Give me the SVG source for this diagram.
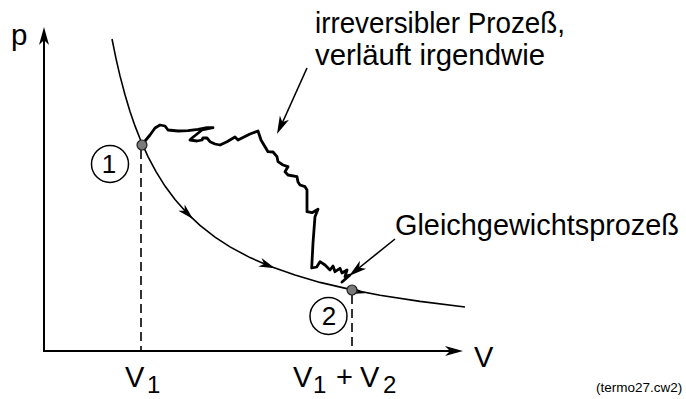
<svg xmlns="http://www.w3.org/2000/svg" width="686" height="399" viewBox="0 0 686 399">
<style>
text{font-family:"Liberation Sans",Arial,Helvetica,sans-serif;fill:#000}
.lbl{font-size:29.5px}
.num{font-size:26px}
.ax{font-size:29px}
.sub{font-size:24px}
.small{font-size:13.5px}
.axis{stroke:#000;stroke-width:2;fill:none}
.curve{stroke:#000;stroke-width:1.6;fill:none}
.zig{stroke:#000;stroke-width:2.8;fill:none;stroke-linejoin:round;stroke-linecap:round}
.dash{stroke:#000;stroke-width:1.6;stroke-dasharray:9,5;fill:none}
.ptr{stroke:#000;stroke-width:1.6;fill:none}
.ring{stroke:#000;stroke-width:1.5;fill:none}
.dot{fill:#7a7a7a;stroke:#222;stroke-width:1.2}
.ah{fill:#000}
</style>
<defs>
<path id="ah" d="M0,0 L-18,-5 L-13,0 L-18,5 Z"/>
</defs>
<rect width="686" height="399" fill="#fff"/>
<g id="axes">
<line class="axis" x1="44" y1="351" x2="44" y2="32"/>
<line class="axis" x1="43" y1="351" x2="458" y2="351"/>
<use href="#ah" class="ah" transform="translate(44,27) rotate(-90)"/>
<use href="#ah" class="ah" transform="translate(463,351)"/>
<text class="lbl" x="11" y="45">p</text>
<text class="ax" x="474" y="367">V</text>
</g>
<g id="connectors">
<path id="isotherm" class="curve" d="M112,39 L116,58.6 L120,75.9 L125,94.8 L130,111.4 L135,125.9 L141,141.2 L148,156.6 L156,171.7 L165,186.1 L175,199.6 L188,214.2 L200,225.4 L215,237.1 L230,246.9 L250,257.6 L270,266.3 L295,275.1 L320,282.4 L350,289.4 L380,295.2 L420,301.4 L465,307"/>
<use href="#ah" class="ah" transform="translate(193,219) rotate(44.7) scale(0.9)"/>
<use href="#ah" class="ah" transform="translate(275,268.2) rotate(21.6) scale(0.9)"/>
<path class="ptr" d="M352,287 L362,292.5 L354,293"/>
<path id="irreversible" class="zig" d="M141.7,145 L150,135 L155,128 L160,125 L165,126 L168,130 L178,131 L188,130.7 L198,129.3 L207,127.7 L213,127.7 L202,130 L192,138 L190,140 L197,141 L202,140 L203,138 L207,138 L210,141.7 L215,144 L220,145 L227,141.7 L235,137 L238,140 L242,138 L250,134 L258,131 L261,140 L265,146.7 L268,151.7 L273,152 L277,156.7 L278,161.7 L283,165 L288,166.7 L285,171.7 L288,175 L297,176.7 L298,182 L300,185 L305,186.7 L307,190 L307,211.7 L312,212.7 L318,209.3 L315,216.7 L313,243 L311.7,268 L316.7,267 L320,261.7 L325,265 L327,267 L330,270 L333,266 L335,271.7 L340,268.3 L342,273 L347,270 L345,276.7 L350,275 L342,282"/>
<line class="dash" x1="141" y1="150" x2="141" y2="351"/>
<line class="dash" x1="352" y1="295" x2="352" y2="351"/>
<line class="ptr" x1="307" y1="68" x2="280" y2="128"/>
<use href="#ah" class="ah" transform="translate(277,134) rotate(114.4)"/>
<line class="ptr" x1="395" y1="239" x2="354" y2="272"/>
<use href="#ah" class="ah" transform="translate(349,276) rotate(141.3)"/>
</g>
<g id="state1">
<circle class="dot" cx="142" cy="145" r="5"/>
<circle class="ring" cx="110" cy="164" r="18.5"/>
<text class="num" x="109" y="173" text-anchor="middle">1</text>
<text class="ax" x="125" y="387">V</text>
<text class="sub" x="147" y="393">1</text>
</g>
<g id="state2">
<circle class="dot" cx="352" cy="290" r="5"/>
<circle class="ring" cx="328.5" cy="316" r="18.5"/>
<text class="num" x="329" y="325" text-anchor="middle">2</text>
<text class="ax" x="293" y="387">V</text>
<text class="sub" x="313" y="393">1</text>
<text class="ax" x="336" y="387">+</text>
<text class="ax" x="360" y="387">V</text>
<text class="sub" x="383" y="393">2</text>
</g>
<g id="label-irreversible">
<text class="lbl" x="315" y="33" textLength="250" lengthAdjust="spacingAndGlyphs">irreversibler Prozeß,</text>
<text class="lbl" x="315" y="65" textLength="230" lengthAdjust="spacingAndGlyphs">verläuft irgendwie</text>
</g>
<g id="label-equilibrium">
<text class="lbl" x="395" y="235" textLength="284" lengthAdjust="spacingAndGlyphs">Gleichgewichtsprozeß</text>
</g>
<text class="small" x="596" y="392">(termo27.cw2)</text>
</svg>
